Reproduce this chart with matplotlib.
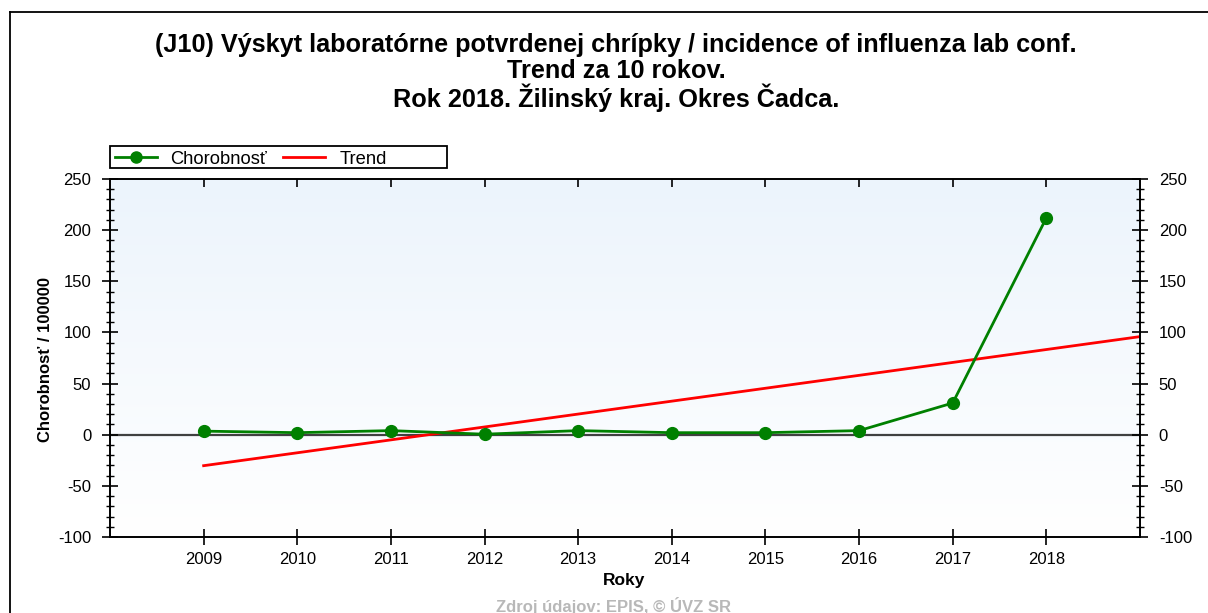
import numpy as np
import matplotlib
matplotlib.use("Agg")
import matplotlib.pyplot as plt
from matplotlib.lines import Line2D
from matplotlib.patches import Rectangle
from matplotlib.ticker import MultipleLocator

plt.rcParams['font.family'] = ['Liberation Sans', 'DejaVu Sans']
plt.rcParams['axes.unicode_minus'] = False

years = [2009, 2010, 2011, 2012, 2013, 2014, 2015, 2016, 2017, 2018]
incidence = [3.5, 2.0, 4.0, 0.5, 4.0, 2.0, 2.0, 4.0, 31.0, 212.0]
title_lines = ["(J10) Výskyt laboratórne potvrdenej chrípky / incidence of influenza lab conf.",
               "Trend za 10 rokov.",
               "Rok 2018. Žilinský kraj. Okres Čadca."]
series_label = "Chorobnosť"
trend_label = "Trend"
ylabel = "Chorobnosť / 100000"
xlabel = "Roky"
source = "Zdroj údajov: EPIS, © ÚVZ SR"

W, H = 1208, 613
fig = plt.figure(figsize=(W / 100, H / 100), dpi=100)
fig.patch.set_facecolor('white')


def fx(px):
    return px / W


def fy(py):
    return 1 - py / H


# outer border (left and top only visible)
fig.add_artist(Line2D([fx(10), fx(10)], [0, fy(12)], transform=fig.transFigure, color='black', lw=1.3))
fig.add_artist(Line2D([fx(10), 1], [fy(12), fy(12)], transform=fig.transFigure, color='black', lw=1.3))

l, r, t, b = fx(110), fx(1140), fy(179), fy(537)
ax = fig.add_axes([l, b, r - l, t - b])

# gradient background
grad = np.linspace(0, 1, 256).reshape(-1, 1)
c_top = np.array([0xec, 0xf4, 0xfc]) / 255
c_bot = np.array([0xff, 0xff, 0xff]) / 255
img = c_top[None, None, :] * (1 - grad[:, :, None]) + c_bot[None, None, :] * grad[:, :, None]
ax.imshow(img, extent=[0, 1, 0, 1], transform=ax.transAxes, aspect='auto', zorder=0)

ax.set_xlim(2008, 2019)
ax.set_ylim(-100, 250)

ax.axhline(0, color='#404040', lw=1.6, zorder=1)

# trend (linear fit)
coef = np.polyfit(years, incidence, 1)
tx = np.array([years[0], 2019])
ax.plot(tx, np.polyval(coef, tx), color='#ff0000', lw=2, zorder=2)

ax.plot(years, incidence, color='#008000', lw=2, marker='o', markersize=8.5, zorder=3)

ax.set_xticks(years)
ax.yaxis.set_major_locator(MultipleLocator(50))
ax.yaxis.set_minor_locator(MultipleLocator(10))
ax.tick_params(axis='y', which='major', direction='inout', length=11, width=1.2,
               left=True, right=True, labelleft=True, labelright=True, labelsize=12, pad=8)
ax.tick_params(axis='y', which='minor', direction='inout', length=6, width=1.0,
               left=True, right=True)
ax.tick_params(axis='x', which='major', direction='inout', length=11, width=1.2,
               labelsize=12, pad=5)
secx = ax.secondary_xaxis('top')
secx.set_xticks(years)
secx.tick_params(direction='in', length=6, width=1.2, labeltop=False)
secx.spines['top'].set_visible(False)

for s in ax.spines.values():
    s.set_linewidth(1.4)
    s.set_color('black')

fig.text(fx(46), fy(360), ylabel, rotation=90, ha='center', va='center',
         fontsize=12, fontweight='bold')
fig.text(fx(624), fy(580), xlabel, ha='center', va='center',
         fontsize=12.5, fontweight='bold')

# title
for i, line in enumerate(title_lines):
    fig.text(fx(616), fy(45 + i * 26.5), line, ha='center', va='center',
             fontsize=18.2, fontweight='bold')

# legend (drawn manually to match layout)
fig.add_artist(Rectangle((fx(110), fy(168)), fx(447) - fx(110), fy(146) - fy(168),
                         transform=fig.transFigure, facecolor='white',
                         edgecolor='black', lw=1.3))
fig.add_artist(Line2D([fx(115), fx(157)], [fy(157), fy(157)], transform=fig.transFigure,
                      color='#008000', lw=2))
fig.add_artist(Line2D([fx(136)], [fy(157)], transform=fig.transFigure,
                      color='#008000', marker='o', markersize=8, lw=0))
fig.text(fx(170), fy(159), series_label, ha='left', va='center', fontsize=13.2)
fig.add_artist(Line2D([fx(283), fx(325)], [fy(157), fy(157)], transform=fig.transFigure,
                      color='#ff0000', lw=2))
fig.text(fx(340), fy(159), trend_label, ha='left', va='center', fontsize=13.2)

fig.text(fx(614), fy(606), source, ha='center', va='center', fontsize=12,
         fontweight='bold', color='#b8b8b8')

fig.savefig('out.png', dpi=100)
